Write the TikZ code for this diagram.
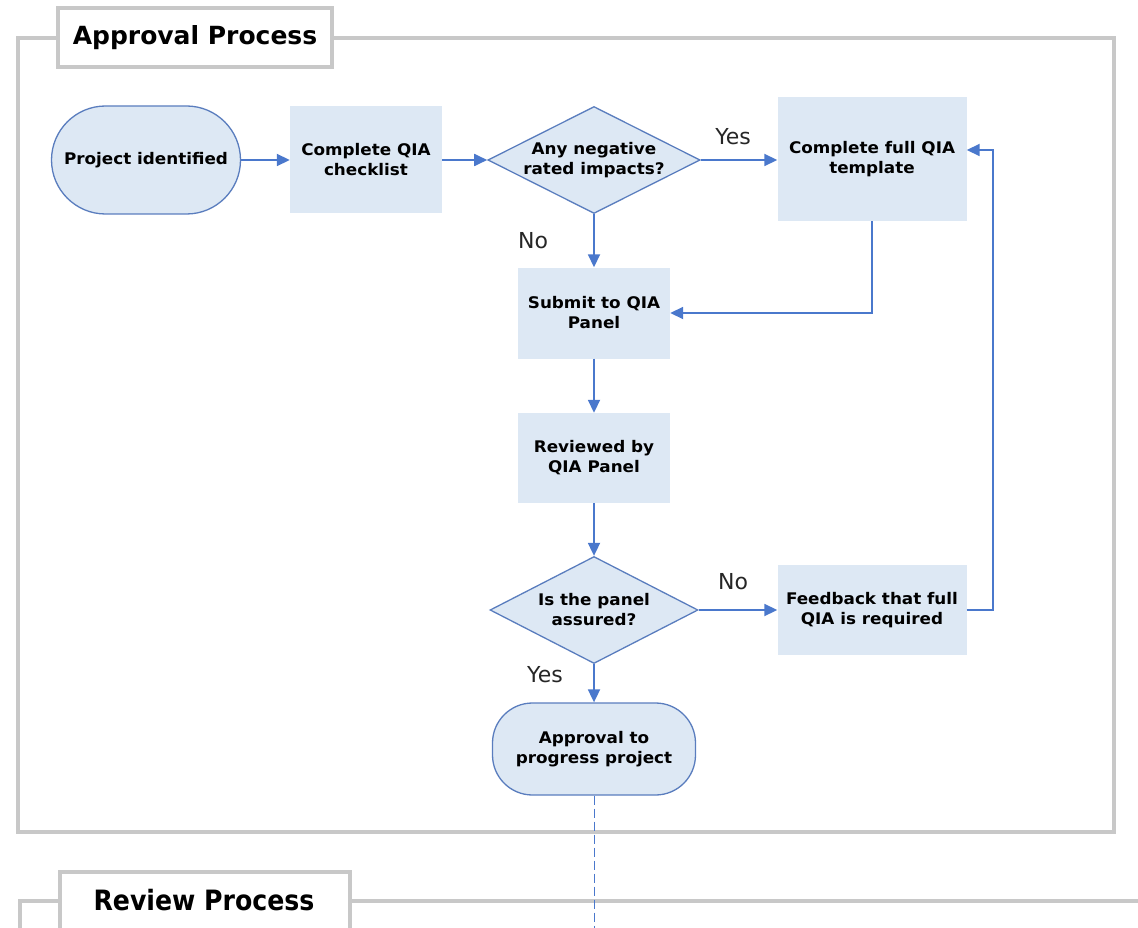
\documentclass[tikz,border=0pt]{standalone}
\usepackage{fontspec}
\setmainfont{DejaVu Sans}
\newfontfamily\condfont{DejaVu Sans Condensed}
\newfontfamily\nodefont[FakeStretch=1.05]{DejaVu Sans}
\usetikzlibrary{shapes.geometric,arrows.meta}
\definecolor{nodefill}{HTML}{DDE8F4}
\definecolor{nodeline}{HTML}{5A7DBE}
\definecolor{arrowcol}{HTML}{4A78CC}
\definecolor{framecol}{HTML}{C8C8C8}
\begin{document}
\begin{tikzpicture}[x=1pt,y=-1pt,
  nodetext/.style={font=\nodefont\fontsize{16}{20}\selectfont\bfseries, align=center, text=black},
  procbox/.style={nodetext, rectangle, fill=nodefill, inner sep=0pt},
  termbox/.style={nodetext, rectangle, fill=nodefill, draw=nodeline, line width=1.3pt, inner sep=0pt},
  decbox/.style={nodetext, diamond, fill=nodefill, draw=nodeline, line width=1.3pt, inner sep=0pt, aspect=2},
  flow/.style={draw=arrowcol, line width=1.8pt, -{Triangle[length=13pt,width=12pt]}},
  lbl/.style={font=\fontsize{22}{24}\selectfont, text=black!85},
  frame/.style={draw=framecol, line width=4pt},
  titlebox/.style={frame, fill=white, inner sep=0pt}
]
\useasboundingbox (0,0) rectangle (1138,928);

% Approval frame
\draw[frame] (332,38) -- (1114,38) -- (1114,832) -- (18,832) -- (18,38) -- (58,38);
\node[titlebox, minimum width=274pt, minimum height=59pt, font=\fontsize{25}{28}\selectfont\bfseries] (t1) at (195,37.5) {Approval Process};

% Review frame
\draw[frame] (20,928) -- (20,901) -- (58,901);
\draw[frame] (348,901) -- (1140,901);
\node[titlebox, minimum width=290pt, minimum height=70pt, anchor=north west] (t2) at (58,870) {};
\node[font=\condfont\fontsize{28}{30}\selectfont\bfseries] (t2t) at (204,900) {Review Process};

% Nodes
\node[termbox, minimum width=189pt, minimum height=108pt, rounded corners=54pt] (proj) at (146,160) {Project identified};
\node[procbox, minimum width=152pt, minimum height=107pt] (check) at (366,160) {Complete QIA\\checklist};
\node[decbox, minimum width=208pt, minimum height=107pt] (neg) at (594,160) {Any negative\\rated impacts?};
\node[procbox, minimum width=189pt, minimum height=124pt] (full) at (872,159) {Complete full QIA\\template};
\node[procbox, minimum width=152pt, minimum height=91pt] (sub) at (594,313) {Submit to QIA\\Panel};
\node[procbox, minimum width=152pt, minimum height=90pt] (rev) at (594,458) {Reviewed by\\QIA Panel};
\node[decbox, minimum width=208pt, minimum height=107pt] (ass) at (594,610) {Is the panel\\assured?};
\node[procbox, minimum width=189pt, minimum height=90pt] (fb) at (872,610) {Feedback that full\\QIA is required};
\node[termbox, minimum width=203pt, minimum height=92pt, rounded corners=40pt] (app) at (594,749) {Approval to\\progress project};

\coordinate (loop) at (993,150);
\coordinate (dashend) at (594,928);

% Connectors
\draw[flow] (proj.east) -- (check.west);
\draw[flow] (check.east) -- (neg.west);
\draw[flow] (neg.east) -- (full.west |- neg.east);
\draw[flow] (neg.south) -- (sub.north);
\draw[flow] (full.south) |- (sub.east);
\draw[flow] (sub.south) -- (rev.north);
\draw[flow] (rev.south) -- (ass.north);
\draw[flow] (ass.east) -- (fb.west |- ass.east);
\draw[flow] (fb.east) -| (loop) -- (full.east |- loop);
\draw[flow] (ass.south) -- (app.north);
\draw[draw=arrowcol, line width=1pt, dash pattern=on 9pt off 4pt] (app.south) -- (dashend);

% Labels
\node[lbl] (yes1) at (733,137) {Yes};
\node[lbl] (no1) at (533,241) {No};
\node[lbl] (no2) at (733,582) {No};
\node[lbl] (yes2) at (545,675) {Yes};
\end{tikzpicture}
\end{document}
